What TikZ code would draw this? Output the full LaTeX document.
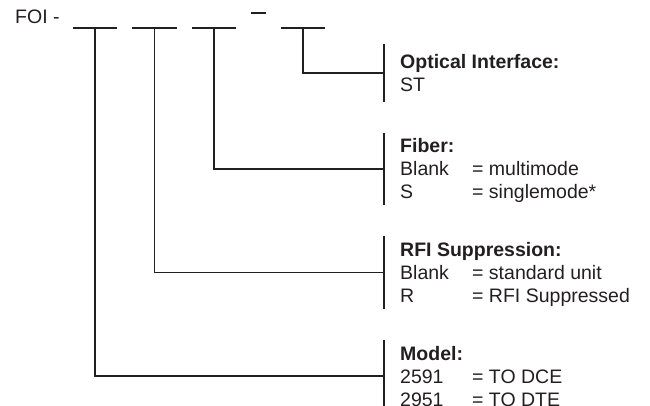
\documentclass[tikz,border=0pt]{standalone}
\usepackage{fontspec}
\setmainfont{Liberation Sans}
\usepackage{tikz}
\usetikzlibrary{positioning}
\definecolor{ink}{HTML}{231F20}

\newcommand{\rowstrut}{\rule[-4.5pt]{0pt}{23pt}}
\newcommand{\optrow}[2]{\rowstrut\makebox[72pt][l]{#1}#2}

\begin{document}
\begin{tikzpicture}[x=1pt, y=-1pt,
    field/.style={minimum width=44pt, minimum height=0pt, inner sep=0pt},
    desc/.style={anchor=west, align=left, inner xsep=16pt, inner ysep=1.5pt,
        font=\fontsize{19.5}{23}\selectfont, text=ink},
    line/.style={draw=ink, line width=1.8pt},
    bar/.style={draw=ink, line width=2.6pt}
]
\useasboundingbox (0,0) rectangle (650,406);

% part number
\node[anchor=base west, inner sep=0pt, font=\fontsize{19.5}{23}\selectfont, text=ink] (foi) at (15,24) {FOI -};
\node[field] (f1) at (95,28) {};
\node[field] (f2) at (154.5,28) {};
\node[field] (f3) at (214,28) {};
\node[field, minimum width=15pt] (dash) at (258.5,13) {};
\node[field] (f4) at (303,28) {};
\foreach \f in {f1,f2,f3,dash,f4}
    \draw[line] (\f.west) -- (\f.east);

% option blocks
\node[desc, minimum height=58pt] (optic) at (384,73)
    {\rowstrut\textbf{Optical Interface:}\\ \rowstrut ST};
\node[desc] (fiber) at (384,169)
    {\rowstrut\textbf{Fiber:}\\ \optrow{Blank}{= multimode}\\ \optrow{S}{= singlemode*}};
\node[desc] (rfi) at (384,272.5)
    {\rowstrut\textbf{RFI Suppression:}\\ \optrow{Blank}{= standard unit}\\ \optrow{R}{= RFI Suppressed}};
\node[desc] (model) at (384,376)
    {\rowstrut\textbf{Model:}\\ \optrow{2591}{= TO DCE}\\ \optrow{2951}{= TO DTE}};

\foreach \b in {optic,fiber,rfi,model}
    \draw[bar] (\b.north west) -- (\b.south west);

\draw[line] (f4.center) |- (optic.west);
\draw[line] (f3.center) |- (fiber.west);
\draw[line] (f2.center) |- (rfi.west);
\draw[line] (f1.center) |- (model.west);
\end{tikzpicture}
\end{document}
